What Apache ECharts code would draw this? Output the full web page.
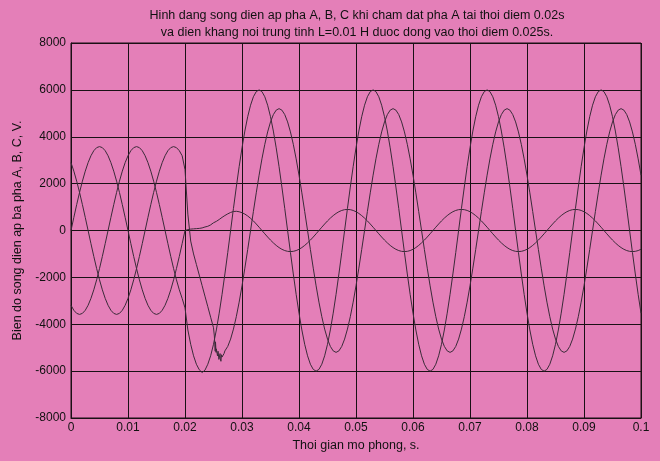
<!DOCTYPE html>
<html>
<head>
<meta charset="utf-8">
<script src="https://cdn.jsdelivr.net/npm/echarts@6/dist/echarts.min.js"></script>
<style>
  html, body { margin: 0; padding: 0; background: #e47fb8; }
  #chart { width: 660px; height: 461px; }
</style>
</head>
<body>
<div id="chart"></div>
<script>
// sample step of the simulation, s
const tStep = 0.0005;

// phase A: faulted phase, ~0 after 0.02 s, small wave after L is switched in
const phaseA = [
  0, 560, 1106, 1625, 2104, 2531, 2896, 3190, 3405, 3536, 3580,
  3536, 3405, 3190, 2896, 2531, 2104, 1625, 1106, 560, 0,
  -560, -1106, -1625, -2104, -2531, -2896, -3190, -3405, -3536, -3580,
  -3536, -3405, -3190, -2896, -2531, -2104, -1625, -1106, -560, 0,
  40, 60, 70, 80, 90, 110, 150, 180, 240, 330,
  390, 470, 560, 640, 710, 770, 810, 820, 800, 760,
  700, 620, 520, 409, 278, 141, 0, -141, -278, -409,
  -529, -636, -728, -802, -856, -889, -900, -889, -856, -802,
  -728, -636, -529, -409, -278, -141, 0, 141, 278, 409,
  529, 636, 728, 802, 856, 889, 900, 889, 856, 802,
  728, 636, 529, 409, 278, 141, 0, -141, -278, -409,
  -529, -636, -728, -802, -856, -889, -900, -889, -856, -802,
  -728, -636, -529, -409, -278, -141, 0, 141, 278, 409,
  529, 636, 728, 802, 856, 889, 900, 889, 856, 802,
  728, 636, 529, 409, 278, 141, 0, -141, -278, -409,
  -529, -636, -728, -802, -856, -889, -900, -889, -856, -802,
  -728, -636, -529, -409, -278, -141, 0, 141, 278, 409,
  529, 636, 728, 802, 856, 889, 900, 889, 856, 802,
  728, 636, 529, 409, 278, 141, 0, -141, -278, -409,
  -529, -636, -728, -802, -856, -889, -900, -889, -856, -802
];

// phase B
const phaseB = [
  -3190, -3405, -3536, -3580, -3536, -3405, -3190, -2896, -2531, -2104, -1625,
  -1106, -560, 0, 560, 1106, 1625, 2104, 2531, 2896, 3190,
  3405, 3536, 3580, 3536, 3405, 3190, 2896, 2531, 2104, 1625,
  1106, 560, 0, -560, -1106, -1625, -2104, -2531, -2896, -3300,
  -4243, -4854, -5346, -5706, -5940, -6060, -5960, -5706, -5346, -4854,
  -4243, -3527, -2724, -1854, -939, 0, 939, 1854, 2724, 3527,
  4243, 4854, 5346, 5706, 5926, 6000, 5926, 5706, 5346, 4854,
  4243, 3527, 2724, 1854, 939, 0, -939, -1854, -2724, -3527,
  -4243, -4854, -5346, -5706, -5926, -6000, -5926, -5706, -5346, -4854,
  -4243, -3527, -2724, -1854, -939, 0, 939, 1854, 2724, 3527,
  4243, 4854, 5346, 5706, 5926, 6000, 5926, 5706, 5346, 4854,
  4243, 3527, 2724, 1854, 939, 0, -939, -1854, -2724, -3527,
  -4243, -4854, -5346, -5706, -5926, -6000, -5926, -5706, -5346, -4854,
  -4243, -3527, -2724, -1854, -939, 0, 939, 1854, 2724, 3527,
  4243, 4854, 5346, 5706, 5926, 6000, 5926, 5706, 5346, 4854,
  4243, 3527, 2724, 1854, 939, 0, -939, -1854, -2724, -3527,
  -4243, -4854, -5346, -5706, -5926, -6000, -5926, -5706, -5346, -4854,
  -4243, -3527, -2724, -1854, -939, 0, 939, 1854, 2724, 3527,
  4243, 4854, 5346, 5706, 5926, 6000, 5926, 5706, 5346, 4854,
  4243, 3527, 2724, 1854, 939, 0, -939, -1854, -2724, -3527
];

// phase C
const phaseC = [
  2896, 2531, 2104, 1625, 1106, 560, 0, -560, -1106, -1625, -2104,
  -2531, -2896, -3190, -3405, -3536, -3580, -3536, -3405, -3190, -2896,
  -2531, -2104, -1625, -1106, -560, 0, 560, 1106, 1625, 2104,
  2531, 2896, 3190, 3405, 3536, 3580, 3536, 3405, 3190, 2600,
  700, -450, -1000, -1450, -1900, -2350, -2800, -3250, -3700, -4150,
  -5050, -5450, -5400, -5136, -4945, -4633, -4207, -3677, -3057, -2361,
  -1607, -813, 0, 813, 1607, 2361, 3057, 3677, 4207, 4633,
  4945, 5136, 5200, 5136, 4945, 4633, 4207, 3677, 3057, 2361,
  1607, 813, 0, -813, -1607, -2361, -3057, -3677, -4207, -4633,
  -4945, -5136, -5200, -5136, -4945, -4633, -4207, -3677, -3057, -2361,
  -1607, -813, 0, 813, 1607, 2361, 3057, 3677, 4207, 4633,
  4945, 5136, 5200, 5136, 4945, 4633, 4207, 3677, 3057, 2361,
  1607, 813, 0, -813, -1607, -2361, -3057, -3677, -4207, -4633,
  -4945, -5136, -5200, -5136, -4945, -4633, -4207, -3677, -3057, -2361,
  -1607, -813, 0, 813, 1607, 2361, 3057, 3677, 4207, 4633,
  4945, 5136, 5200, 5136, 4945, 4633, 4207, 3677, 3057, 2361,
  1607, 813, 0, -813, -1607, -2361, -3057, -3677, -4207, -4633,
  -4945, -5136, -5200, -5136, -4945, -4633, -4207, -3677, -3057, -2361,
  -1607, -813, 0, 813, 1607, 2361, 3057, 3677, 4207, 4633,
  4945, 5136, 5200, 5136, 4945, 4633, 4207, 3677, 3057, 2361
];

// switching ripple on phase C around 0.025 s
const rippleT = [0.02515, 0.0253, 0.02535, 0.02545, 0.0257, 0.0258, 0.02595, 0.02615, 0.0262, 0.0263, 0.0264, 0.0267, 0.02685];
const rippleV = [-4500, -5150, -4750, -5200, -5350, -5150, -5500, -5250, -5450, -5580, -5300, -5450, -5250];

const yTicks = [-8000, -6000, -4000, -2000, 0, 2000, 4000, 6000, 8000];

const times = phaseA.map((v, i) => +(i * tStep).toFixed(5));
function pairs(vals) {
  return vals.map((v, i) => [times[i], v]);
}
const dataC = pairs(phaseC)
  .concat(rippleT.map((t, k) => [t, rippleV[k]]))
  .sort((a, b) => a[0] - b[0]);

const font = "'Liberation Sans', Arial, sans-serif";
const lineCol = "#3b2b39";
const gridCol = "#1a1015";

const chart = echarts.init(document.getElementById("chart"), null, { renderer: "canvas" });
chart.setOption({
  animation: false,
  backgroundColor: "#e47fb8",
  title: {
    text: "Hinh dang song dien ap pha A, B, C khi cham dat pha A tai thoi diem 0.02s\nva dien khang noi trung tinh L=0.01 H duoc dong vao thoi diem 0.025s.",
    left: 352,
    top: 2,
    textAlign: "center",
    textStyle: {
      fontFamily: font,
      fontSize: 12.5,
      fontWeight: "normal",
      color: "#111",
      lineHeight: 17,
    },
  },
  grid: {
    left: 71,
    right: 19,
    top: 43,
    bottom: 43,
    show: true,
    borderColor: gridCol,
    borderWidth: 1,
  },
  xAxis: {
    type: "value",
    min: 0,
    max: 0.1,
    interval: 0.01,
    name: "Thoi gian mo phong, s.",
    nameLocation: "middle",
    nameGap: 17,
    nameTextStyle: { fontFamily: font, fontSize: 12.5, color: "#111" },
    axisLine: { show: true, onZero: false, lineStyle: { color: gridCol } },
    axisTick: { show: false },
    axisLabel: {
      fontFamily: font,
      fontSize: 12,
      color: "#111",
      margin: 4,
      formatter: (v) => String(+v.toFixed(2)),
    },
    splitLine: { show: true, lineStyle: { color: gridCol, width: 1 } },
  },
  yAxis: {
    type: "value",
    min: yTicks[0],
    max: yTicks[yTicks.length - 1],
    interval: 2000,
    name: "Bien do song dien ap ba pha A, B, C, V.",
    nameLocation: "middle",
    nameGap: 46,
    nameTextStyle: { fontFamily: font, fontSize: 12.5, color: "#111" },
    axisLine: { show: true, lineStyle: { color: gridCol } },
    axisTick: { show: false },
    axisLabel: {
      fontFamily: font,
      fontSize: 12,
      color: "#111",
      margin: 5,
      formatter: (v) => String(v),
    },
    splitLine: { show: true, lineStyle: { color: gridCol, width: 1 } },
  },
  series: [
    {
      name: "A",
      type: "line",
      data: pairs(phaseA),
      showSymbol: false,
      lineStyle: { color: lineCol, width: 1 },
    },
    {
      name: "B",
      type: "line",
      data: pairs(phaseB),
      showSymbol: false,
      lineStyle: { color: lineCol, width: 1 },
    },
    {
      name: "C",
      type: "line",
      data: dataC,
      showSymbol: false,
      lineStyle: { color: lineCol, width: 1 },
    },
  ],
});
</script>
</body>
</html>
